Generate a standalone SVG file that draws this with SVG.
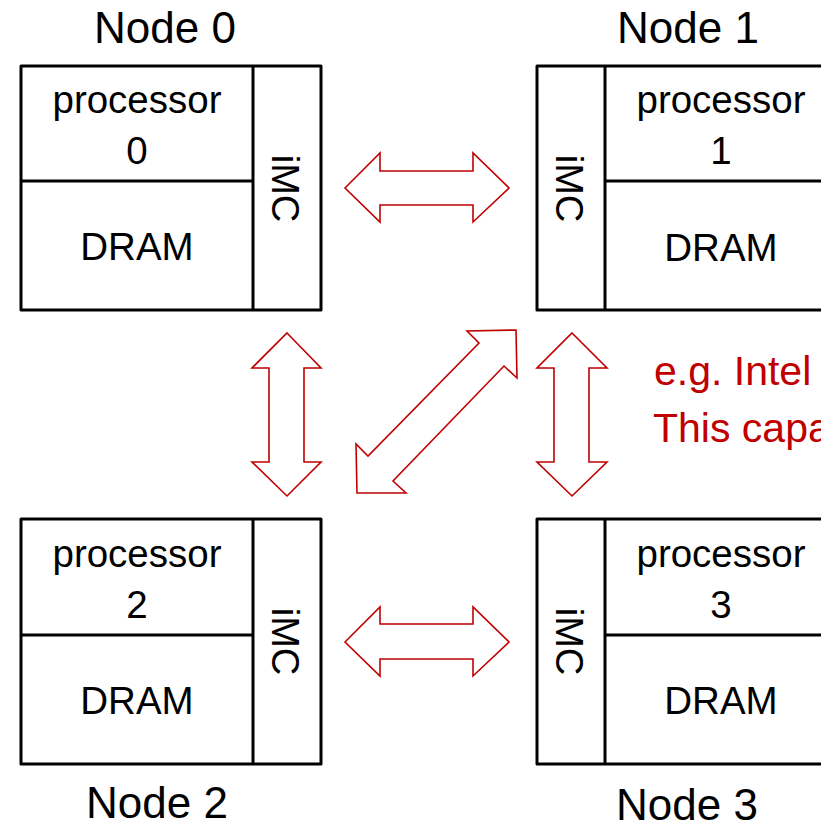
<svg xmlns="http://www.w3.org/2000/svg" width="821" height="825" viewBox="0 0 821 825">
<style>
.box{fill:#fff;stroke:#000;stroke-width:3;stroke-linejoin:round}
.ln{stroke:#000;stroke-width:3;fill:none}
.t{font-family:"Liberation Sans",Arial,sans-serif;fill:#000;text-anchor:middle}
.p{font-size:38.5px}
.lbl{font-size:44px}
.imc{font-size:38px}
.arr{fill:#fff;stroke:#C00000;stroke-width:1.6;stroke-linejoin:miter}
.note{font-family:"Liberation Sans",Arial,sans-serif;fill:#C00000;font-size:41px}
</style>
<g id="node0">
<text class="t lbl" x="165" y="43">Node 0</text>
<rect class="box" x="21" y="66" width="300" height="244"/>
<line class="ln" x1="253" y1="66" x2="253" y2="310"/>
<line class="ln" x1="21" y1="181" x2="253" y2="181"/>
<text class="t p" x="137" y="113">processor</text>
<text class="t p" x="137" y="164">0</text>
<text class="t p" x="137" y="260">DRAM</text>
<text class="t imc" transform="translate(272,188.5) rotate(90)">iMC</text>
</g>
<g id="node1">
<text class="t lbl" x="688" y="43">Node 1</text>
<rect class="box" x="537" y="66" width="300" height="244"/>
<line class="ln" x1="605" y1="66" x2="605" y2="310"/>
<line class="ln" x1="605" y1="181" x2="837" y2="181"/>
<text class="t p" x="721" y="113">processor</text>
<text class="t p" x="721" y="164">1</text>
<text class="t p" x="721" y="261">DRAM</text>
<text class="t imc" transform="translate(556,188.5) rotate(90)">iMC</text>
</g>
<g id="node2">
<rect class="box" x="21" y="519" width="300" height="245"/>
<line class="ln" x1="253" y1="519" x2="253" y2="764"/>
<line class="ln" x1="21" y1="635" x2="253" y2="635"/>
<text class="t p" x="137" y="567">processor</text>
<text class="t p" x="137" y="618">2</text>
<text class="t p" x="137" y="714">DRAM</text>
<text class="t imc" transform="translate(272,641.5) rotate(90)">iMC</text>
<text class="t lbl" x="157" y="818">Node 2</text>
</g>
<g id="node3">
<rect class="box" x="537" y="519" width="300" height="245"/>
<line class="ln" x1="605" y1="519" x2="605" y2="764"/>
<line class="ln" x1="605" y1="635" x2="837" y2="635"/>
<text class="t p" x="721" y="567">processor</text>
<text class="t p" x="721" y="618">3</text>
<text class="t p" x="721" y="714">DRAM</text>
<text class="t imc" transform="translate(556,641.5) rotate(90)">iMC</text>
<text class="t lbl" x="687" y="820">Node 3</text>
</g>
<g id="connectors">
<polygon class="arr" points="345,188 380,153 380,171 473,171 473,153 509,188 473,222 473,205 380,205 380,222"/>
<polygon class="arr" points="345,642 380,607 380,624 473,624 473,607 509,642 473,676 473,659 380,659 380,676"/>
<polygon class="arr" points="287,333 321,368 304,368 304,462 321,462 287,496 252,462 269,462 269,368 252,368"/>
<polygon class="arr" points="572,333 607,368 589,368 589,462 607,462 572,496 537,462 554,462 554,368 537,368"/>
<polygon class="arr" points="516,330 467,331 479,343 368,456 356,444 357,493 406,493 393,481 504,366 517,378"/>
</g>
<g id="note">
<text class="note" x="654" y="385">e.g. Intel</text>
<text class="note" x="653" y="442">This capa</text>
</g>
</svg>
